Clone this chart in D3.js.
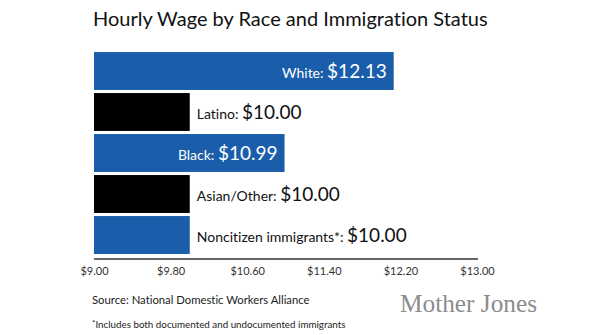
<!DOCTYPE html>
<html>
<head>
<meta charset="utf-8">
<script src="https://cdnjs.cloudflare.com/ajax/libs/d3/7.8.5/d3.min.js"></script>
<style>
  html, body { margin: 0; padding: 0; background: #fff; }
  svg { display: block; }
  text { font-family: Lato, "Open Sans", sans-serif; font-variant-ligatures: none; }
  text.wordmark { font-family: "Liberation Serif", "DejaVu Serif", serif; }
</style>
</head>
<body>
<svg id="chart" width="612" height="335"></svg>
<script>
// Hourly wage by group (USD)
const groups = ["White", "Latino", "Black", "Asian/Other", "Noncitizen immigrants*"];
const wages = [12.13, 10.00, 10.99, 10.00, 10.00];
const barColors = ["#1a5eab", "#000000", "#1a5eab", "#000000", "#1a5eab"];
const tickValues = [9.00, 9.80, 10.60, 11.40, 12.20, 13.00];
const tickLabels = ["$9.00", "$9.80", "$10.60", "$11.40", "$12.20", "$13.00"];

const svg = d3.select("#chart");

const x = d3.scaleLinear().domain([9, 13]).range([94, 477]);
const y = d3.scaleBand().domain(groups).range([50.5, 255.5])
  .paddingInner(0.075).paddingOuter(0.0375);

// Title
svg.append("text")
  .attr("x", 93).attr("y", 26)
  .attr("font-size", 20)
  .attr("fill", "#111")
  .text("Hourly Wage by Race and Immigration Status");

// Bars
const rows = groups.map((g, i) => ({ g, v: wages[i], c: barColors[i] }));
svg.append("g").selectAll("rect").data(rows).join("rect")
  .attr("x", x(9))
  .attr("y", d => y(d.g))
  .attr("width", d => x(d.v) - x(9))
  .attr("height", y.bandwidth())
  .attr("fill", d => d.c);

// Value labels: inside the bar (right aligned, white) when it fits, otherwise just past the end
const fmt = d3.format("$.2f");
const labels = svg.append("g").selectAll("text").data(rows).join("text")
  .attr("y", d => y(d.g) + y.bandwidth() / 2 + 6.5);
labels.append("tspan").attr("font-size", 14).text(d => d.g + ": ");
labels.append("tspan").attr("font-size", 19).text(d => fmt(d.v));
labels.each(function(d) {
  const t = d3.select(this);
  const w = this.getComputedTextLength();
  const inside = (x(d.v) - x(9)) > w + 14;
  if (inside) {
    t.attr("x", x(d.v) - 7).attr("text-anchor", "end").attr("fill", "#fff");
  } else {
    t.attr("x", x(d.v) + 7).attr("text-anchor", "start").attr("fill", "#111");
  }
});

// Axis
const axis = d3.axisBottom(x).tickValues(tickValues)
  .tickFormat((d, i) => tickLabels[i]).tickSize(0).tickPadding(8);
const ax = svg.append("g").attr("transform", "translate(0,259)").call(axis);
ax.select(".domain").attr("d", `M${x(9)},0H478`).attr("stroke", "#333").attr("stroke-width", 1.5);
ax.selectAll(".tick text")
  .attr("font-size", 11).attr("fill", "#333");

// Source and footnote
svg.append("text")
  .attr("x", 92).attr("y", 304)
  .attr("font-size", 11.3).attr("fill", "#222")
  .text("Source: National Domestic Workers Alliance");

const fn = svg.append("text")
  .attr("x", 92).attr("y", 327.5)
  .attr("font-size", 9.8).attr("fill", "#222");
fn.append("tspan").attr("font-size", 8).attr("dy", -2).text("*");
fn.append("tspan").attr("dy", 2).text("Includes both documented and undocumented immigrants");

// Wordmark
svg.append("text")
  .attr("class", "wordmark")
  .attr("x", 400).attr("y", 312)
  .attr("font-size", 25).attr("fill", "#8c8c8c")
  .attr("textLength", 137).attr("lengthAdjust", "spacingAndGlyphs")
  .text("Mother Jones");
</script>
</body>
</html>
